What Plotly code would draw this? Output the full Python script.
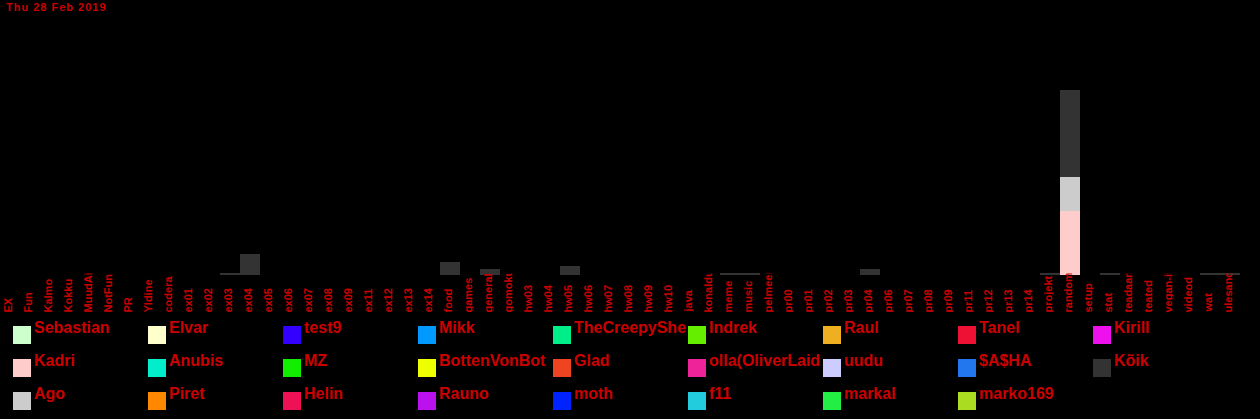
import plotly.graph_objects as go

title_text = "Thu 28 Feb 2019"

categories = ["EX", "Fun", "Kalmo", "Kokku", "MuudAine", "NotFun", "PR", "Yldine", "codera",
              "ex01", "ex02", "ex03", "ex04", "ex05", "ex06", "ex07", "ex08", "ex09", "ex11",
              "ex12", "ex13", "ex14", "food", "games", "general", "gomoku", "hw03", "hw04",
              "hw05", "hw06", "hw07", "hw08", "hw09", "hw10", "java", "konaldused", "meme",
              "music", "pelmeeni", "pr00", "pr01", "pr02", "pr03", "pr04", "pr06", "pr07",
              "pr08", "pr09", "pr11", "pr12", "pr13", "pr14", "projekt", "random", "setup",
              "stat", "teadaanded", "teated", "vegan-it", "videod", "wat", "ulesanded"]

# legend order (row-major as shown)
series_names = ["Sebastian", "Elvar", "test9", "Mikk", "TheCreepySheep", "Indrek", "Raul", "Tanel", "Kirill",
                "Kadri", "Anubis", "MZ", "BottenVonBot", "Glad", "olla(OliverLaid", "uudu", "$A$HA", "Kõik",
                "Ago", "Piret", "Helin", "Rauno", "moth", "f11", "markal", "marko169"]

series_colors = ["#ccffcc", "#ffffcc", "#3300ff", "#0099ff", "#00ee88", "#66ee00", "#eeb020", "#ee1133", "#ee11ee",
                 "#ffcccc", "#00eecc", "#11ee00", "#eeff00", "#ee4422", "#ee2299", "#ccccff", "#2277ee", "#333333",
                 "#cccccc", "#ff8800", "#ee1155", "#bb11ee", "#0022ff", "#22ccdd", "#22ee44", "#aadd22"]

# non-zero values per series (by category)
kadri_values = {"random": 21.3}
ago_values = {"random": 11.3}
koik_values = {"ex03": 0.7, "ex04": 7.0, "food": 4.3, "general": 2.0, "hw05": 3.0,
               "meme": 0.5, "music": 0.5, "pr04": 2.0, "projekt": 0.8, "random": 29.0,
               "stat": 0.8, "wat": 0.8, "ulesanded": 0.35}

series_data = {"Kadri": kadri_values, "Ago": ago_values, "Kõik": koik_values}

RED = "#cc0000"
W, H = 1260, 419
ML, MR, MT, MB = 0, 20, 25, 144
PW = W - ML - MR
PH = H - MT - MB
BASE = H - MB


def px_x(X):
    return (X - ML) / PW


def px_y(Y):
    return (BASE - Y) / PH


fig = go.Figure()

# stacking order: all series, with "Kõik" last (on top)
order = [n for n in series_names if n != "Kõik"] + ["Kõik"]
for name in order:
    vals = series_data.get(name, {})
    color = series_colors[series_names.index(name)]
    fig.add_trace(go.Bar(
        x=categories,
        y=[vals.get(c, 0) for c in categories],
        name=name,
        marker=dict(color=color, line=dict(width=0)),
        showlegend=False,
        hoverinfo="skip",
    ))

annotations = []
# category labels (rotated, bottom-anchored, clipped)
for c in categories:
    annotations.append(dict(
        x=c, xref="x", xshift=-10, xanchor="left",
        y=px_y(314), yref="paper", yanchor="bottom",
        text=c, textangle=-90, width=39, align="left",
        showarrow=False, borderpad=0,
        font=dict(family="Liberation Sans", size=11, color=RED, weight="bold"),
    ))

# custom legend
shapes = []
for i, (name, color) in enumerate(zip(series_names, series_colors)):
    row, col = divmod(i, 9)
    x0 = 13 + 135 * col
    y0 = 326 + 33 * row
    shapes.append(dict(type="rect", xref="paper", yref="paper",
                       x0=px_x(x0), x1=px_x(x0 + 18), y0=px_y(y0 + 18), y1=px_y(y0),
                       fillcolor=color, line=dict(width=0), layer="above"))
    annotations.append(dict(
        x=px_x(x0 + 20), xref="paper", xanchor="left",
        y=px_y(y0 + 1), yref="paper", yanchor="middle",
        text=name, width=112, align="left", showarrow=False, borderpad=0,
        font=dict(family="Liberation Sans", size=16, color=RED, weight="bold"),
    ))

# title
annotations.append(dict(
    x=px_x(5), xref="paper", xanchor="left",
    y=px_y(0), yref="paper", yanchor="top",
    text='<span style="letter-spacing:1px">' + title_text + '</span>',
    showarrow=False, borderpad=0,
    font=dict(family="Liberation Sans", size=11, color=RED, weight="bold"),
))

fig.update_layout(
    width=W, height=H, autosize=False,
    margin=dict(l=ML, r=MR, t=MT, b=MB, pad=0),
    paper_bgcolor="black", plot_bgcolor="black",
    barmode="stack", bargap=0,
    showlegend=False,
    xaxis=dict(type="category", categoryorder="array", categoryarray=categories,
               range=[-0.5, len(categories) - 0.5],
               showticklabels=False, showgrid=False, zeroline=False, showline=False, ticks=""),
    yaxis=dict(range=[0, PH / 3], visible=False, showgrid=False, zeroline=False),
    annotations=annotations,
    shapes=shapes,
)

fig.write_html(
    "out.html",
    config={"displayModeBar": False},
    post_script="document.body.style.margin='0';document.body.style.background='black';",
)
